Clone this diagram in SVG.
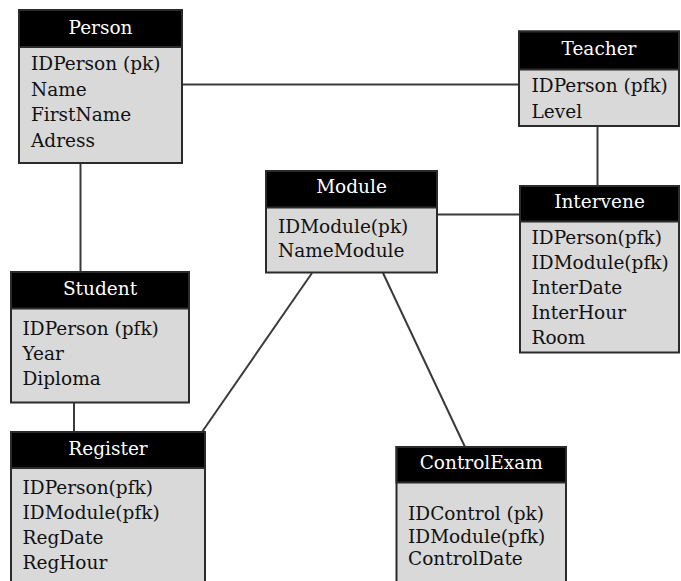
<svg xmlns="http://www.w3.org/2000/svg" width="681" height="581" viewBox="0 0 681 581">
  <style>
    .body { fill: #d9d9d9; stroke: #2b2b2b; stroke-width: 2; }
    .head { fill: #000000; stroke: #2b2b2b; stroke-width: 2; }
    .title { font-family: "DejaVu Serif", "Liberation Serif", serif; font-size: 18.5px; fill: #ffffff; text-anchor: middle; }
    .attr { font-family: "DejaVu Serif", "Liberation Serif", serif; font-size: 18.5px; fill: #111111; }
    .link { stroke: #3a3a3a; stroke-width: 2; fill: none; }
  </style>
  <rect width="681" height="581" fill="#ffffff"/>

  <!-- relationships -->
  <g id="connectors">
    <line class="link" x1="182" y1="84.5" x2="519" y2="84.5"/>
    <line class="link" x1="80.5" y1="163" x2="80.5" y2="272"/>
    <line class="link" x1="597.5" y1="126" x2="597.5" y2="186"/>
    <line class="link" x1="437" y1="214.5" x2="520" y2="214.5"/>
    <line class="link" x1="74" y1="402" x2="74" y2="432"/>
    <line class="link" x1="312" y1="273" x2="202" y2="432"/>
    <line class="link" x1="383" y1="273" x2="465" y2="447"/>
  </g>

  <g id="person">
    <rect class="body" x="19" y="10" width="163" height="153"/>
    <rect class="head" x="19" y="10" width="163" height="37"/>
    <text class="title" x="100.5" y="34">Person</text>
    <text class="attr" x="31" y="70">IDPerson (pk)</text>
    <text class="attr" x="31" y="95.7">Name</text>
    <text class="attr" x="31" y="121.4">FirstName</text>
    <text class="attr" x="31" y="147">Adress</text>
  </g>

  <g id="teacher">
    <rect class="body" x="519" y="31.5" width="160" height="94.5"/>
    <rect class="head" x="519" y="31.5" width="160" height="38"/>
    <text class="title" x="599" y="55">Teacher</text>
    <text class="attr" x="531.5" y="92">IDPerson (pfk)</text>
    <text class="attr" x="531.5" y="117.5">Level</text>
  </g>

  <g id="module">
    <rect class="body" x="266" y="171" width="171" height="101.5"/>
    <rect class="head" x="266" y="171" width="171" height="36.5"/>
    <text class="title" x="351.5" y="193">Module</text>
    <text class="attr" x="278" y="233">IDModule(pk)</text>
    <text class="attr" x="278" y="257">NameModule</text>
  </g>

  <g id="intervene">
    <rect class="body" x="520" y="186" width="159" height="166.5"/>
    <rect class="head" x="520" y="186" width="159" height="35.5"/>
    <text class="title" x="599.5" y="208">Intervene</text>
    <text class="attr" x="531.5" y="243.5">IDPerson(pfk)</text>
    <text class="attr" x="531.5" y="268.5">IDModule(pfk)</text>
    <text class="attr" x="531.5" y="293.5">InterDate</text>
    <text class="attr" x="531.5" y="318.5">InterHour</text>
    <text class="attr" x="531.5" y="343.5">Room</text>
  </g>

  <g id="student">
    <rect class="body" x="11" y="272" width="178" height="130.5"/>
    <rect class="head" x="11" y="272" width="178" height="36.5"/>
    <text class="title" x="100" y="295">Student</text>
    <text class="attr" x="22.5" y="335">IDPerson (pfk)</text>
    <text class="attr" x="22.5" y="360">Year</text>
    <text class="attr" x="22.5" y="385">Diploma</text>
  </g>

  <g id="register">
    <rect class="body" x="11" y="432" width="194" height="160"/>
    <rect class="head" x="11" y="432" width="194" height="36"/>
    <text class="title" x="108" y="455">Register</text>
    <text class="attr" x="22.5" y="493.5">IDPerson(pfk)</text>
    <text class="attr" x="22.5" y="518.5">IDModule(pfk)</text>
    <text class="attr" x="22.5" y="543.5">RegDate</text>
    <text class="attr" x="22.5" y="569">RegHour</text>
  </g>

  <g id="controlexam">
    <rect class="body" x="396.5" y="447" width="169.5" height="150"/>
    <rect class="head" x="396.5" y="447" width="169.5" height="35.5"/>
    <text class="title" x="481.25" y="469">ControlExam</text>
    <text class="attr" x="408" y="520">IDControl (pk)</text>
    <text class="attr" x="408" y="542.5">IDModule(pfk)</text>
    <text class="attr" x="408" y="564.5">ControlDate</text>
  </g>
</svg>
